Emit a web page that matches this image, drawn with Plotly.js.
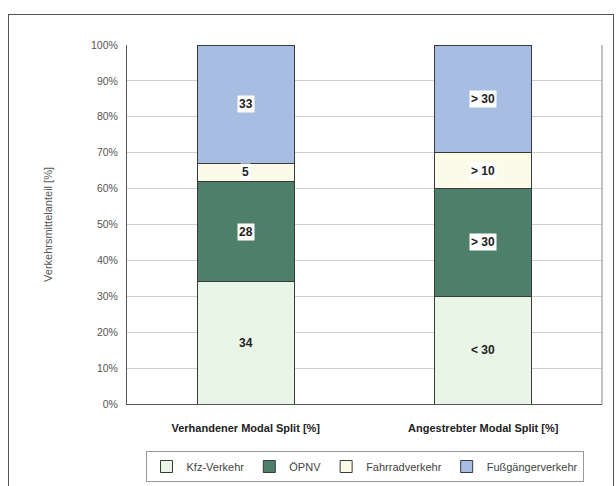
<!DOCTYPE html>
<html><head><meta charset="utf-8">
<script src="https://cdn.plot.ly/plotly-3.0.1.min.js"></script>
<style>
body{margin:0;padding:0;background:#fff;}
#wrap{position:relative;width:616px;height:486px;}
#frame{position:absolute;left:8px;top:14px;width:606px;height:480px;border:1px solid #555;box-sizing:border-box;pointer-events:none;}
#chart{position:absolute;left:0;top:0;width:616px;height:486px;}
</style>
</head><body>
<div id="wrap"><div id="chart"></div><div id="frame"></div></div>
<script>
const categories = ["Verhandener Modal Split [%]", "Angestrebter Modal Split [%]"];
const seriesNames = ["Kfz-Verkehr", "ÖPNV", "Fahrradverkehr", "Fußgängerverkehr"];
const kfz = [34, 30];
const oepnv = [28, 30];
const fahrrad = [5, 10];
const fuss = [33, 30];
const kfzLabels = ["34", "< 30"];
const oepnvLabels = ["28", "> 30"];
const fahrradLabels = ["5", "> 10"];
const fussLabels = ["33", "> 30"];
const yTicks = [0,10,20,30,40,50,60,70,80,90,100];

const colors = ["#e9f5e6", "#4e7f6b", "#fcfbe9", "#a8bde2"];
const seriesVals = [kfz, oepnv, fahrrad, fuss];
const seriesLabels = [kfzLabels, oepnvLabels, fahrradLabels, fussLabels];

const traces = seriesVals.map((vals, i) => ({
  type: "bar",
  name: seriesNames[i],
  x: categories,
  y: vals,
  width: 0.41,
  marker: {color: colors[i], line: {color: "#3a3a3a", width: 1}},
  hoverinfo: "skip"
}));

const annotations = [];
categories.forEach((c, ci) => {
  let base = 0;
  seriesVals.forEach((vals, si) => {
    const v = vals[ci];
    annotations.push({
      x: c, y: base + v/2, xref: "x", yref: "y",
      text: seriesLabels[si][ci], showarrow: false,
      font: {family: "Liberation Sans, Arial, sans-serif", size: 12, color: "#222", weight: "bold"},
      bgcolor: si === 0 ? "rgba(0,0,0,0)" : "#ffffff",
      borderpad: 1
    });
    base += v;
  });
});

const layout = {
  width: 616, height: 486,
  margin: {l: 127, r: 14, t: 45, b: 82},
  paper_bgcolor: "#ffffff",
  plot_bgcolor: "#ffffff",
  barmode: "stack",
  font: {family: "Liberation Sans, Arial, sans-serif", color: "#333"},
  xaxis: {
    type: "category",
    showline: true, linecolor: "#555", linewidth: 1,
    showgrid: false, ticks: "outside", ticklen: 14, tickcolor: "rgba(0,0,0,0)", mirror: false,
    tickfont: {size: 11, color: "#222", weight: "bold"},
    fixedrange: true
  },
  yaxis: {
    range: [0, 100],
    tickvals: yTicks,
    ticktext: yTicks.map(v => v + "%"),
    ticks: "outside", ticklen: 6, tickcolor: "rgba(0,0,0,0)",
    showline: true, linecolor: "#555", linewidth: 1,
    showgrid: true, gridcolor: "#cfcfcf", gridwidth: 1,
    tickfont: {size: 10.5, color: "#555"},
    title: {text: "Verkehrsmittelanteil [%]", font: {size: 11, color: "#555"}, standoff: 36},
    fixedrange: true
  },
  shapes: [
    {type: "line", xref: "paper", yref: "paper", x0: 1, x1: 1, y0: 0, y1: 1, line: {color: "#888", width: 1}}
  ],
  legend: {
    orientation: "h", xref: "paper", x: 0.5, xanchor: "center",
    yref: "container", y: 0.072, yanchor: "top",
    bordercolor: "#999", borderwidth: 1,
    font: {size: 11, color: "#444"},
    traceorder: "normal",
    itemwidth: 30,
    tracegroupgap: 0
  },
  annotations: annotations,
  showlegend: true
};

Plotly.newPlot("chart", traces, layout, {displayModeBar: false, staticPlot: true});
</script>
</body></html>
